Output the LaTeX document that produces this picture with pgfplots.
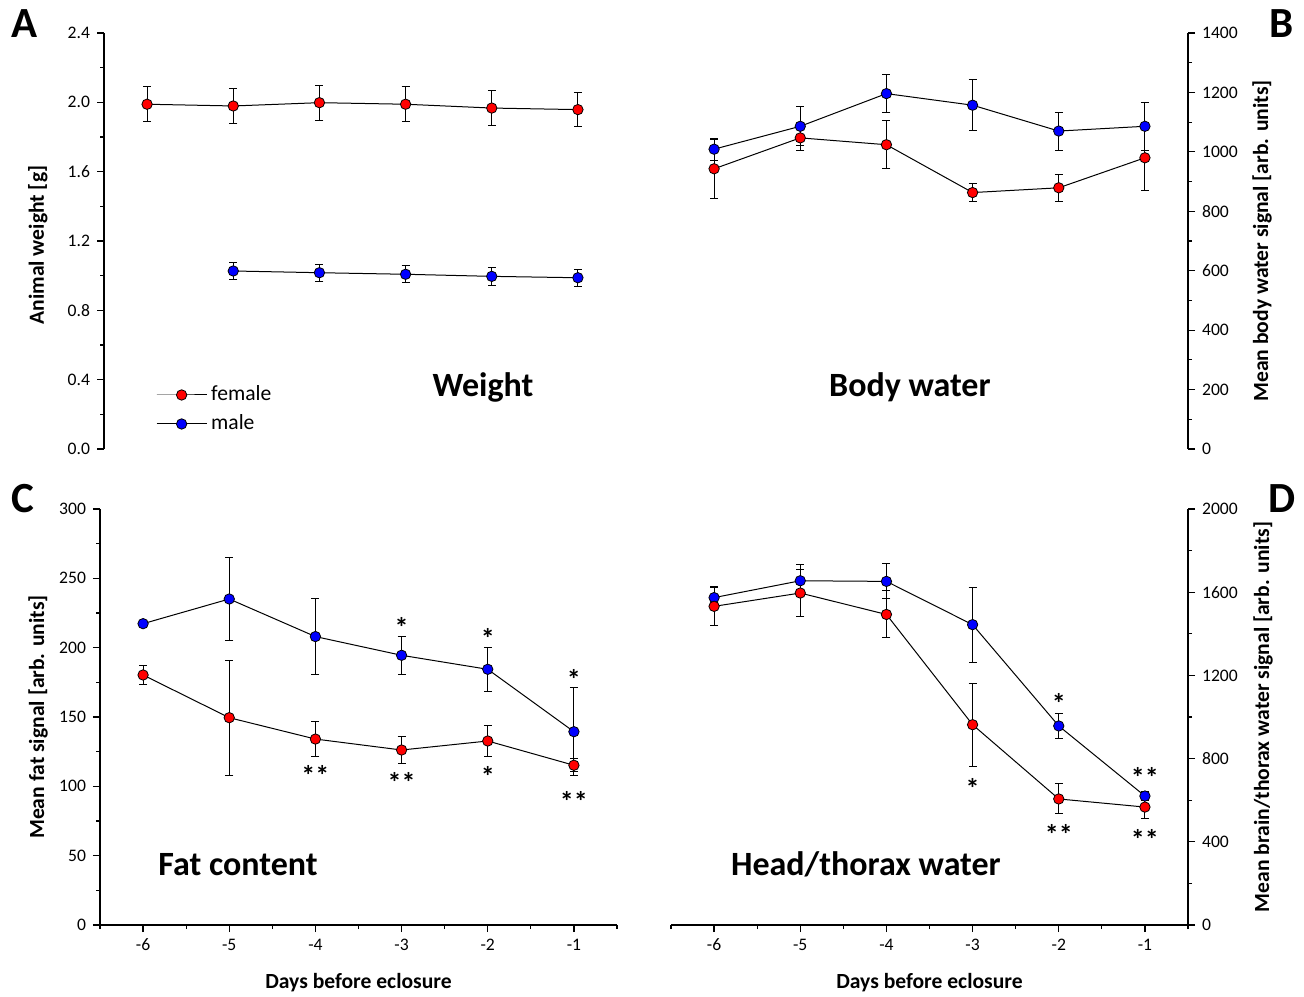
\documentclass[border=0pt]{standalone}
\usepackage{pgfplots}
\pgfplotsset{compat=1.18}
\usepackage{fontspec}
\setmainfont{Carlito}

\tikzset{
  star/.style={font=\fontsize{14}{14}\selectfont\bfseries, anchor=center, inner sep=0pt, yshift=-2.5pt},
  ttl/.style={font=\fontsize{17}{17}\selectfont\bfseries, anchor=base},
}
\pgfplotsset{
  panel/.style={
    scale only axis, width=258.5pt, height=208pt,
    xmin=-6.5, xmax=-0.5,
    tick align=outside,
    major tick length=3.5pt, minor tick length=2pt,
    every tick/.style={black, line width=0.6pt},
    axis line style={black, line width=0.7pt},
    tick label style={font=\fontsize{8.8}{10}\selectfont},
    label style={font=\fontsize{10.8}{12}\selectfont\bfseries},
    /pgf/number format/assume math mode=true,
    /pgf/number format/set thousands separator={},
    clip=false,
    legend image code/.code={\draw[mark repeat=2,mark phase=2] plot coordinates {(0cm,0cm)(0.44cm,0cm)(0.88cm,0cm)};},
  },
  xpanel/.style={
    axis x line*=bottom,
    xtick={-6,-5,-4,-3,-2,-1},
    minor xtick={-6.5,-5.5,-4.5,-3.5,-2.5,-1.5,-0.5},
    xlabel={Days before eclosure},
    xlabel style={at={(axis description cs:0.5,-0.139)}, anchor=center},
  },
  ser/.style={black, line width=0.5pt, mark=*, mark size=2.6pt,
    mark options={fill=#1, draw=black, line width=0.4pt},
    error bars/.cd, y dir=both, y explicit,
    error bar style={black, line width=0.5pt},
    error mark options={rotate=90, mark size=2pt, black, line width=0.5pt}},
}

\begin{document}
\begin{tikzpicture}
\useasboundingbox (0,0) rectangle (652pt,498pt);

% ---------------- A ----------------
\begin{axis}[panel, at={(52pt,273.5pt)}, anchor=south west,
  axis y line*=left, axis x line=none,
  ymin=0, ymax=2.4, ytick={0,0.4,0.8,1.2,1.6,2.0,2.4}, minor ytick={0.2,0.6,1.0,1.4,1.8,2.2},
  yticklabel style={/pgf/number format/.cd, fixed, fixed zerofill, precision=1},
  ylabel={Animal weight [g]},
  ylabel style={at={(axis description cs:-0.128,0.49)}, anchor=center},
  legend style={draw=none, fill=none, at={(axis description cs:0.1,0.095)}, anchor=west,
    font=\fontsize{10.8}{12}\selectfont, row sep=1.5pt, inner sep=0pt},
  legend cell align=left,
]
\addplot[ser=red] table[x=x, y=y, y error=e] {
x y e
-6 1.989 0.1
-5 1.979 0.1
-4 1.998 0.1
-3 1.989 0.1
-2 1.967 0.1
-1 1.958 0.1
};
\addlegendentry{female}
\addplot[ser=blue] table[x=x, y=y, y error=e] {
x y e
-5 1.027 0.05
-4 1.017 0.05
-3 1.008 0.05
-2 0.996 0.05
-1 0.988 0.05
};
\addlegendentry{male}
\node[ttl] at (rel axis cs:0.733,0.127) {Weight};
\end{axis}

% ---------------- B ----------------
\begin{axis}[panel, at={(335.5pt,273.5pt)}, anchor=south west,
  axis y line*=right, axis x line=none,
  ymin=0, ymax=1400, ytick={0,200,...,1400}, minor ytick={100,300,...,1300},
  ylabel={Mean body water signal [arb. units]},
  ylabel style={at={(axis description cs:1.143,0.5)}, anchor=center},
]
\addplot[ser=blue] table[x=x, y=y, y error=e] {
x y e
-6 1009 37
-5 1086 66
-4 1196 65
-3 1157 85
-2 1070 64
-1 1086 81
};
\addplot[ser=red] table[x=x, y=y, y error=e] {
x y e
-6 943 100
-5 1047 43
-4 1024 81
-3 863 29
-2 879 46
-1 980 109
};
\node[ttl] at (rel axis cs:0.462,0.127) {Body water};
\end{axis}

% ---------------- C ----------------
\begin{axis}[panel, xpanel, at={(50pt,35.5pt)}, anchor=south west,
  axis y line*=left,
  ymin=0, ymax=300, ytick={0,50,...,300}, minor ytick={25,75,...,275},
  ylabel={Mean fat signal [arb. units]},
  ylabel style={at={(axis description cs:-0.12,0.5)}, anchor=center},
]
\addplot[ser=blue] table[x=x, y=y, y error=e] {
x y e
-6 217.3 0
-5 235.1 30
-4 208.0 27.6
-3 194.5 13.5
-2 184.4 16
-1 139.4 31.7
};
\addplot[ser=red] table[x=x, y=y, y error=e] {
x y e
-6 180.3 7.2
-5 149.5 41.4
-4 134.1 12.5
-3 126.2 10
-2 132.7 11.3
-1 115.2 4.6
};
\node[star] at (axis cs:-4,111.3) {**};
\node[star] at (axis cs:-3,106.7) {**};
\node[star] at (axis cs:-2,110.6) {*};
\node[star] at (axis cs:-1,92.5) {**};
\node[star] at (axis cs:-3,218) {*};
\node[star] at (axis cs:-2,210.4) {*};
\node[star] at (axis cs:-1,181) {*};
\node[ttl] at (rel axis cs:0.267,0.12) {Fat content};
\end{axis}

% ---------------- D ----------------
\begin{axis}[panel, xpanel, at={(335.5pt,35.5pt)}, anchor=south west,
  axis y line*=right,
  ymin=0, ymax=2000, ytick={0,400,...,2000}, minor ytick={200,600,...,1800},
  ylabel={Mean brain/thorax water signal [arb. units]},
  ylabel style={at={(axis description cs:1.145,0.5)}, anchor=center},
]
\addplot[ser=blue] table[x=x, y=y, y error=e] {
x y e
-6 1574 51
-5 1655 77
-4 1652 84
-3 1444 181
-2 957 58
-1 620 21
};
\addplot[ser=red] table[x=x, y=y, y error=e] {
x y e
-6 1532 94
-5 1596 114
-4 1493 113
-3 963 200
-2 606 72
-1 567 57
};
\node[star] at (axis cs:-3,681) {*};
\node[star] at (axis cs:-2,461.5) {**};
\node[star] at (axis cs:-1,437.5) {**};
\node[star] at (axis cs:-2,1091) {*};
\node[star] at (axis cs:-1,731) {**};
\node[ttl] at (rel axis cs:0.377,0.12) {Head/thorax water};
\end{axis}

% panel letters
\node[font=\fontsize{21.5}{22}\selectfont\bfseries, anchor=base] at (12.3pt,479pt) {A};
\node[font=\fontsize{21.5}{22}\selectfont\bfseries, anchor=base] at (640.8pt,479pt) {B};
\node[font=\fontsize{21.5}{22}\selectfont\bfseries, anchor=base] at (11.5pt,241.5pt) {C};
\node[font=\fontsize{21.5}{22}\selectfont\bfseries, anchor=base] at (641.2pt,241.5pt) {D};
\end{tikzpicture}
\end{document}
